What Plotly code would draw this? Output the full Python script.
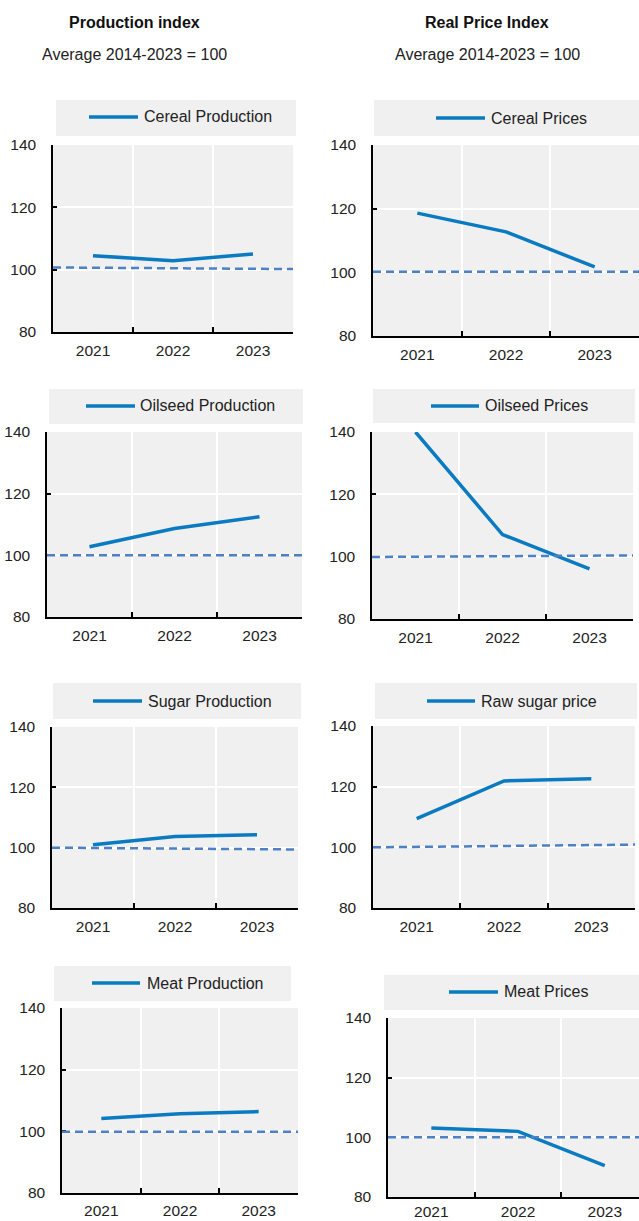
import plotly.graph_objects as go

W, H = 639, 1221

# ---------- data ----------
years = ["2021", "2022", "2023"]

cereal_prod = [104.5, 102.9, 105.0]
cereal_price = [118.6, 112.7, 101.7]
oilseed_prod = [102.8, 108.7, 112.5]
oilseed_price = [140.0, 107.1, 96.1]
sugar_prod = [101.0, 103.7, 104.3]
sugar_price = [109.5, 121.9, 122.6]
meat_prod = [104.2, 105.7, 106.4]
meat_price = [103.1, 102.0, 90.5]

series_names = ["Cereal Production", "Cereal Prices",
                "Oilseed Production", "Oilseed Prices",
                "Sugar Production", "Raw sugar price",
                "Meat Production", "Meat Prices"]
series_values = [cereal_prod, cereal_price, oilseed_prod, oilseed_price,
                 sugar_prod, sugar_price, meat_prod, meat_price]

# average 2014-2023 reference line (left end, right end)
ref_left = [100.7, 100.2, 100.0, 99.9, 100.0, 100.0, 99.9, 100.0]
ref_right = [100.2, 100.2, 100.0, 100.4, 99.4, 100.9, 99.9, 100.0]

y_ticks = [80, 100, 120, 140]

# ---------- layout in pixels ----------
# plot box: left, right, top, bottom, x range end, x label gap
plots = [
    (53, 293, 145, 332, 2.5, 4),
    (373, 639, 145, 336, 2.5, 4),
    (47, 302, 432, 617, 2.5, 4),
    (372, 633, 432, 619, 2.5, 4),
    (52, 298, 727, 908, 2.5, 4),
    (373, 635, 726, 908, 2.5, 4),
    (62, 298, 1008, 1193, 2.5, 3),
    (388, 639, 1018, 1197, 2.395, 0),
]
# legend box: x0, x1, y0, y1, line x0, line x1, line y, text x
legends = [
    (56, 296, 100, 136, 89, 138, 117, 142),
    (374, 639, 100, 136, 436, 485, 118, 489),
    (49, 303, 389, 424, 86, 135, 406, 138),
    (373, 635, 389, 423, 431, 479, 406, 483),
    (53, 301, 683, 719, 93, 142, 701, 146),
    (375, 637, 683, 719, 427, 475, 701, 479),
    (54, 291, 966, 1001, 92, 140, 983, 145),
    (384, 639, 975, 1010, 449, 498, 992, 502),
]

LINE = "#0A7BC1"
DASH = "#4D80C4"
BG = "#F0F0F0"
FONT = "Liberation Sans, Arial, sans-serif"


def px_x(v):
    return v / W


def px_y(v):
    return 1 - v / H


fig = go.Figure()
shapes = []
annotations = []

for i, (name, vals) in enumerate(zip(series_names, series_values)):
    n = "" if i == 0 else str(i + 1)
    l, r, t, b, xend, gap = plots[i]
    fig.add_trace(go.Scatter(
        x=years, y=vals, mode="lines", name=name,
        line=dict(color=LINE, width=3.5),
        xaxis="x" + n, yaxis="y" + n, showlegend=False,
    ))
    fig.update_layout({
        "xaxis" + n: dict(
            domain=[px_x(l), px_x(r)], anchor="y" + n, type="category",
            range=[-0.5, xend], tickson="boundaries", automargin=False,
            showgrid=True, gridcolor="white", gridwidth=2,
            showline=True, linecolor="black", linewidth=1.5,
            ticks="inside", ticklen=5, tickcolor="black", tickwidth=1.5,
            ticklabelstandoff=gap,
            tickfont=dict(size=15.5, color="#222", family=FONT),
        ),
        "yaxis" + n: dict(
            domain=[px_y(b), px_y(t)], anchor="x" + n, automargin=False,
            range=[80, 140], tickvals=y_ticks,
            showgrid=True, gridcolor="white", gridwidth=2, zeroline=False,
            showline=True, linecolor="black", linewidth=1.5,
            ticks="inside", ticklen=4, tickcolor="black", tickwidth=1.5,
            ticklabelstandoff=12,
            tickfont=dict(size=15.5, color="#222", family=FONT),
        ),
    })
    shapes.append(dict(
        type="line", xref="x" + n + " domain", yref="y" + n,
        x0=0, x1=1, y0=ref_left[i], y1=ref_right[i],
        line=dict(color=DASH, width=2.5, dash="8px,5px"),
    ))

    # legend box
    bx0, bx1, by0, by1, lx0, lx1, ly, tx = legends[i]
    shapes.append(dict(
        type="rect", xref="paper", yref="paper",
        x0=px_x(bx0), x1=px_x(bx1), y0=px_y(by1), y1=px_y(by0),
        fillcolor=BG, line=dict(width=0), layer="below",
    ))
    shapes.append(dict(
        type="line", xref="paper", yref="paper",
        x0=px_x(lx0), x1=px_x(lx1), y0=px_y(ly), y1=px_y(ly),
        line=dict(color=LINE, width=3.5),
    ))
    annotations.append(dict(
        text=name, xref="paper", yref="paper", x=px_x(tx), y=px_y(ly),
        xanchor="left", yanchor="middle", showarrow=False,
        font=dict(size=16, color="#222", family=FONT),
    ))

# panel headers
for cx, title in [(134, "Production index"), (487, "Real Price Index")]:
    annotations.append(dict(
        text="<b>" + title + "</b>", xref="paper", yref="paper",
        x=px_x(cx), y=px_y(23), xanchor="center", yanchor="middle",
        showarrow=False, font=dict(size=16, color="#111", family=FONT),
    ))
    annotations.append(dict(
        text="Average 2014-2023 = 100", xref="paper", yref="paper",
        x=px_x(cx), y=px_y(55), xanchor="center", yanchor="middle",
        showarrow=False, font=dict(size=16, color="#222", family=FONT),
    ))

fig.update_layout(
    width=W, height=H, autosize=False,
    margin=dict(l=0, r=0, t=0, b=0, autoexpand=False),
    paper_bgcolor="white", plot_bgcolor=BG,
    font=dict(family=FONT, size=15, color="#222"),
    shapes=shapes, annotations=annotations,
)

page_css = "document.body.style.margin = '0';"
fig.write_html("out.html", config={"displayModeBar": False}, post_script=page_css)
